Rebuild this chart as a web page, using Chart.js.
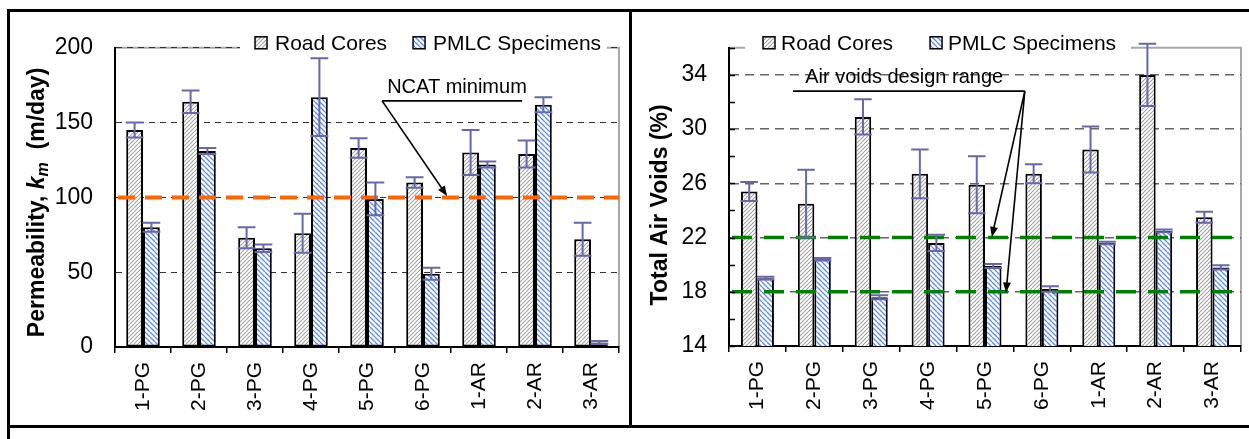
<!DOCTYPE html>
<html>
<head>
<meta charset="utf-8">
<script src="https://cdn.jsdelivr.net/npm/chart.js@4.4.1/dist/chart.umd.min.js"></script>
<style>
    body { margin: 0; background: #fff; width: 1249px; height: 439px; overflow: hidden; position: relative; }
    .rule { position: absolute; background: #000; }
    canvas { position: absolute; }
</style>
</head>
<body>
<div class="rule" style="left:7px;top:9px;width:1242px;height:3px"></div>
<div class="rule" style="left:7px;top:9px;width:3px;height:430px"></div>
<div class="rule" style="left:629px;top:9px;width:3px;height:418px"></div>
<div class="rule" style="left:7px;top:425px;width:1242px;height:3px"></div>
<canvas id="permChart" width="619" height="413" style="left:10px;top:12px"></canvas>
<canvas id="voidsChart" width="617" height="413" style="left:632px;top:12px"></canvas>
<script>
// chart data
const categories = ["1-PG", "2-PG", "3-PG", "4-PG", "5-PG", "6-PG", "1-AR", "2-AR", "3-AR"];
const seriesNames = ["Road Cores", "PMLC Specimens"];

const permRoad = [145, 164, 73, 76, 133, 110, 130, 129, 72];
const permRoadErr = [5, 7.5, 7, 13, 6.5, 3.5, 15, 9, 11];
const permPmlc = [80, 131, 66, 167, 99, 49, 122, 162, 3];
const permPmlcErr = [3, 2, 2.5, 26, 11, 4, 2, 5, 1];
const permTicks = [0, 50, 100, 150, 200];
const ncatMinimum = [100];

const voidsRoad = [25.4, 24.5, 30.9, 26.7, 25.9, 26.7, 28.5, 34.0, 23.5];
const voidsRoadErr = [0.7, 2.5, 1.3, 1.8, 2.1, 0.7, 1.7, 2.3, 0.4];
const voidsPmlc = [19.0, 20.4, 17.6, 21.6, 19.9, 18.2, 21.6, 22.5, 19.8];
const voidsPmlcErr = [0.1, 0.1, 0.15, 0.6, 0.15, 0.2, 0.1, 0.1, 0.15];
const voidsTicks = [14, 18, 22, 26, 30, 34];
const designRange = [22, 18];

const FONT = '"Liberation Sans", Arial, sans-serif';
const ERR_COLOR = "#6868a8";
Chart.defaults.font.family = FONT;
Chart.defaults.color = "#000";

function hatch(lineColor, dir, size, width) {
    const c = document.createElement("canvas");
    c.width = c.height = size;
    const g = c.getContext("2d");
    g.fillStyle = "#fff";
    g.fillRect(0, 0, size, size);
    g.strokeStyle = lineColor;
    g.lineWidth = width;
    g.beginPath();
    for (let k = -1; k <= 1; k++) {
        if (dir > 0) {
            g.moveTo(k * size, size);
            g.lineTo(k * size + size, 0);
        } else {
            g.moveTo(k * size, 0);
            g.lineTo(k * size + size, size);
        }
    }
    g.stroke();
    return g.createPattern(c, "repeat");
}

const roadFill = hatch("#a2a2a2", 1, 4, 1.1);
const pmlcFill = hatch("#5a86ff", -1, 5, 1.3);

// gray plot-area frame (top and right)
const plotFrame = {
    id: "plotFrame",
    beforeDraw(chart) {
        const { ctx, chartArea: a } = chart;
        ctx.save();
        ctx.strokeStyle = "#a8a8a8";
        ctx.lineWidth = 2;
        ctx.beginPath();
        ctx.moveTo(a.left, a.top);
        ctx.lineTo(a.right, a.top);
        ctx.lineTo(a.right, a.bottom);
        ctx.stroke();
        ctx.restore();
    }
};

const refLines = {
    id: "refLines",
    afterDatasetsDraw(chart, args, opts) {
        if (!opts.values) return;
        const { ctx, chartArea: a, scales: { y } } = chart;
        ctx.save();
        ctx.strokeStyle = opts.color;
        ctx.lineWidth = opts.width;
        ctx.setLineDash(opts.dash);
        opts.values.forEach(v => {
            const py = y.getPixelForValue(v);
            ctx.beginPath();
            ctx.moveTo(a.left + 3, py);
            ctx.lineTo(a.right, py);
            ctx.stroke();
        });
        ctx.restore();
    }
};

const errorBars = {
    id: "errorBars",
    afterDatasetsDraw(chart) {
        const { ctx, scales: { y } } = chart;
        chart.data.datasets.forEach((ds, i) => {
            const meta = chart.getDatasetMeta(i);
            meta.data.forEach((bar, j) => {
                const v = ds.data[j], e = ds.errors[j];
                const top = y.getPixelForValue(v + e);
                const bot = y.getPixelForValue(v - e);
                const hw = bar.width / 2 + 0.5;
                ctx.save();
                ctx.strokeStyle = ERR_COLOR;
                ctx.lineWidth = 2;
                ctx.beginPath();
                ctx.moveTo(bar.x, top); ctx.lineTo(bar.x, bot);
                ctx.moveTo(bar.x - hw, top); ctx.lineTo(bar.x + hw, top);
                ctx.moveTo(bar.x - hw, bot); ctx.lineTo(bar.x + hw, bot);
                ctx.stroke();
                ctx.restore();
            });
        });
    }
};

const innerTicks = {
    id: "innerTicks",
    afterDatasetsDraw(chart, args, opts) {
        if (!opts.step) return;
        const { ctx, chartArea: a, scales: { y } } = chart;
        ctx.save();
        ctx.strokeStyle = "#000";
        ctx.lineWidth = 1.5;
        ctx.beginPath();
        for (let v = y.min; v <= y.max; v += opts.step) {
            const py = Math.round(y.getPixelForValue(v)) + 0.5;
            ctx.moveTo(a.left, py);
            ctx.lineTo(a.left + opts.len, py);
        }
        ctx.stroke();
        ctx.restore();
    }
};

function arrow(ctx, x1, y1, x2, y2) {
    const ang = Math.atan2(y2 - y1, x2 - x1);
    ctx.beginPath();
    ctx.moveTo(x1, y1);
    ctx.lineTo(x2 - 6 * Math.cos(ang), y2 - 6 * Math.sin(ang));
    ctx.stroke();
    ctx.beginPath();
    ctx.moveTo(x2, y2);
    ctx.lineTo(x2 - 10 * Math.cos(ang) + 4 * Math.sin(ang), y2 - 10 * Math.sin(ang) - 4 * Math.cos(ang));
    ctx.lineTo(x2 - 10 * Math.cos(ang) - 4 * Math.sin(ang), y2 - 10 * Math.sin(ang) + 4 * Math.cos(ang));
    ctx.closePath();
    ctx.fill();
}

const callout = {
    id: "callout",
    afterDraw(chart, args, opts) {
        if (!opts.text) return;
        const { ctx, scales: { x, y } } = chart;
        const px = p => [x.getPixelForValue(p[0]), y.getPixelForValue(p[1])];
        ctx.save();
        ctx.fillStyle = "#000";
        ctx.strokeStyle = "#000";
        ctx.lineWidth = 1.6;
        ctx.font = "20px " + FONT;
        ctx.textBaseline = "alphabetic";
        const t = px(opts.textAt);
        ctx.fillText(opts.text, t[0], t[1]);
        const u1 = px(opts.underline[0]), u2 = px(opts.underline[1]);
        ctx.beginPath();
        ctx.moveTo(u1[0], u1[1]);
        ctx.lineTo(u2[0], u2[1]);
        ctx.stroke();
        const f = px(opts.from);
        opts.tips.forEach(tp => {
            const e = px(tp);
            arrow(ctx, f[0], f[1], e[0], e[1]);
        });
        ctx.restore();
    }
};

const boxLegend = {
    id: "boxLegend",
    afterDraw(chart, args, opts) {
        if (!opts.start) return;
        const { ctx, chartArea: a } = chart;
        const cy = a.top - 5;
        ctx.save();
        ctx.font = "21px " + FONT;
        ctx.fillStyle = "#fff";
        ctx.fillRect(a.left + opts.clear[0], cy - 13, opts.clear[1] - opts.clear[0], 24);
        let cx = a.left + opts.start;
        chart.data.datasets.forEach(ds => {
            ctx.fillStyle = ds.backgroundColor;
            ctx.fillRect(cx, cy - 6, 12, 12);
            ctx.strokeStyle = "#000";
            ctx.lineWidth = 1.5;
            ctx.strokeRect(cx, cy - 6, 12, 12);
            ctx.fillStyle = "#000";
            ctx.textBaseline = "middle";
            ctx.fillText(ds.label, cx + 12 + opts.boxGap, cy + 1);
            cx += 12 + opts.boxGap + ctx.measureText(ds.label).width + opts.gap;
        });
        ctx.restore();
    }
};

// rotated y-axis title with mixed styles (italic k, subscript m)
function axisTitle(parts, x, dy) {
    return {
        id: "axisTitle",
        afterDraw(chart) {
            const { ctx, chartArea: a } = chart;
            ctx.save();
            let total = 0;
            parts.forEach(p => { ctx.font = p[1] + " " + FONT; total += ctx.measureText(p[0]).width; });
            ctx.translate(x, (a.top + a.bottom) / 2 + dy);
            ctx.rotate(-Math.PI / 2);
            ctx.fillStyle = "#000";
            ctx.textBaseline = "middle";
            ctx.textAlign = "left";
            let pos = -total / 2;
            parts.forEach(p => {
                ctx.font = p[1] + " " + FONT;
                ctx.fillText(p[0], pos, p[2] || 0);
                pos += ctx.measureText(p[0]).width;
            });
            ctx.restore();
        }
    };
}

function makeChart(id, cfg) {
    return new Chart(document.getElementById(id), {
        type: "bar",
        data: {
            labels: categories,
            datasets: [
                { label: seriesNames[0], data: cfg.road, errors: cfg.roadErr, backgroundColor: roadFill,
                  borderColor: "#000", borderWidth: 2, borderSkipped: false },
                { label: seriesNames[1], data: cfg.pmlc, errors: cfg.pmlcErr, backgroundColor: pmlcFill,
                  borderColor: "#000", borderWidth: 2, borderSkipped: false }
            ]
        },
        options: {
            responsive: false,
            animation: false,
            layout: { padding: { top: 31, right: cfg.padRight, left: 0, bottom: 0 } },
            datasets: { bar: { categoryPercentage: cfg.catPct, barPercentage: 1 } },
            plugins: {
                legend: { display: false },
                tooltip: { enabled: false },
                refLines: cfg.refLines,
                innerTicks: cfg.innerTicks || {},
                callout: cfg.callout,
                boxLegend: cfg.legend
            },
            scales: {
                x: {
                    offset: true,
                    grid: { offset: true, drawOnChartArea: false, drawTicks: true, tickLength: 6, color: "#000", lineWidth: 1.5 },
                    border: { color: "#000", width: 2 },
                    ticks: { minRotation: 90, maxRotation: 90, autoSkip: false, padding: 9, font: { size: 21 } },
                    afterFit(s) { s.height = cfg.xHeight; }
                },
                y: {
                    min: cfg.min,
                    max: cfg.max,
                    afterBuildTicks(s) { s.ticks = cfg.ticks.map(v => ({ value: v })); },
                    ticks: { padding: 22, font: { size: 23 } },
                    grid: {
                        drawTicks: false,
                        color: c => (c.tick && c.tick.value > cfg.min ? cfg.gridColor : "rgba(0,0,0,0)"),
                        lineWidth: cfg.gridWidth
                    },
                    border: { color: "#000", width: 2, dash: cfg.gridDash },
                    afterFit(s) { s.width = cfg.yWidth; }
                }
            }
        },
        plugins: [plotFrame, refLines, errorBars, innerTicks, callout, boxLegend, cfg.title]
    });
}

makeChart("permChart", {
    road: permRoad, roadErr: permRoadErr, pmlc: permPmlc, pmlcErr: permPmlcErr,
    min: 0, max: 200, ticks: permTicks,
    padRight: 10, yWidth: 105, xHeight: 78, catPct: 0.6,
    gridColor: "#333", gridWidth: 1, gridDash: [6, 5],
    refLines: { values: ncatMinimum, color: "#ff6600", width: 4, dash: [17, 10] },
    callout: {
        text: "NCAT minimum",
        textAt: [4.36, 169.5],
        underline: [[4.27, 164.5], [6.77, 164.5]],
        from: [4.27, 164.5],
        tips: [[5.43, 101]]
    },
    legend: { start: 140, boxGap: 8, gap: 26, clear: [125, 492] },
    title: axisTitle([
        ["Permeability, ", "bold 23px"],
        ["k", "italic bold 23px"],
        ["m", "italic bold 16px", 6],
        ["  (m/day)", "bold 23px"]
    ], 28, 5)
});

makeChart("voidsChart", {
    road: voidsRoad, roadErr: voidsRoadErr, pmlc: voidsPmlc, pmlcErr: voidsPmlcErr,
    min: 14, max: 36, ticks: voidsTicks,
    padRight: 8, yWidth: 97, xHeight: 79, catPct: 0.58,
    gridColor: "#666", gridWidth: 1.5, gridDash: [9, 6],
    refLines: { values: designRange, color: "#008000", width: 3.5, dash: [20, 12] },
    innerTicks: { step: 2, len: 6 },
    callout: {
        text: "Air voids design range",
        textAt: [0.84, 33.4],
        underline: [[0.625, 32.8], [4.70, 32.8]],
        from: [4.70, 32.8],
        tips: [[4.12, 22.05], [4.37, 17.95]]
    },
    legend: { start: 34, boxGap: 6, gap: 37, clear: [16, 402] },
    title: axisTitle([["Total Air Voids (%)", "bold 23px"]], 29, 8)
});
</script>
</body>
</html>
